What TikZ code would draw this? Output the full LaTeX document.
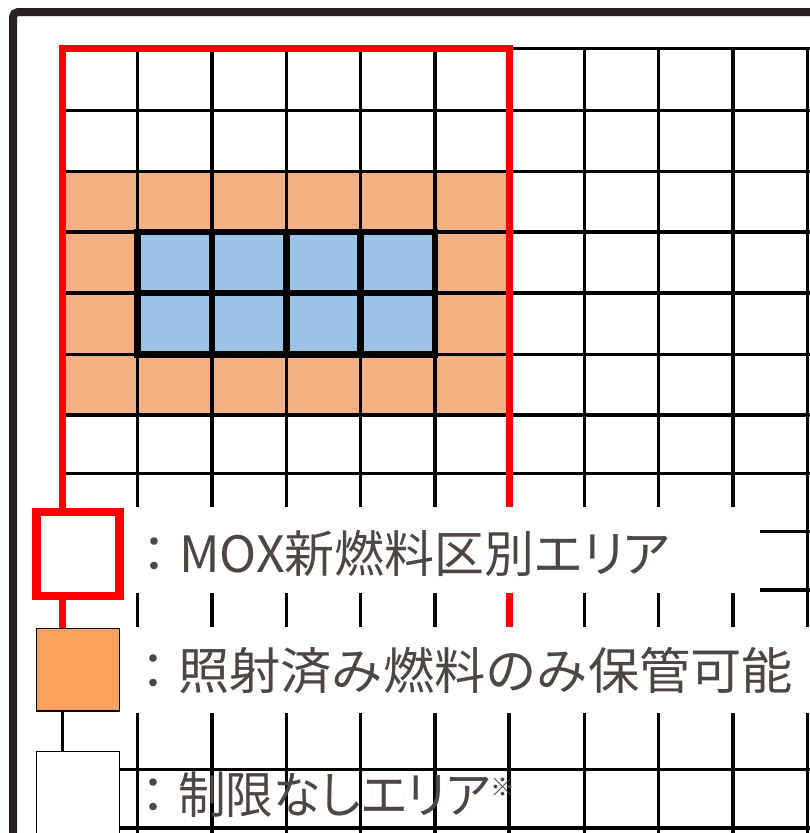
\documentclass[tikz,border=0pt]{standalone}
\usepackage{fontspec}
\newfontfamily\jp{Noto Sans CJK JP}
\newfontfamily\jpp[RawFeature=+palt]{Noto Sans CJK JP}
\definecolor{framecol}{HTML}{272322}
\definecolor{cellorange}{HTML}{F4B183}
\definecolor{cellblue}{HTML}{9DC3E6}
\definecolor{legorange}{HTML}{F9A05B}
\definecolor{txtcol}{HTML}{4D4643}
\definecolor{redline}{HTML}{FF0000}
\tikzset{
  gridline/.style={black, line width=3.6pt},
  thickline/.style={black, line width=6.7pt},
  legbox/.style={draw, minimum width=83pt, minimum height=84pt, inner sep=0pt, outer sep=0pt},
  legtext/.style={anchor=base west, inner sep=0pt, text=txtcol, font=\fontsize{50}{50}\selectfont},
}
\begin{document}
\begin{tikzpicture}[x=1pt,y=-1pt]
\useasboundingbox (0,0) rectangle (810,833);
\begin{scope}
\clip (0,0) rectangle (810,833);
% cell fills
\fill[cellorange] (62.5,171.5) rectangle (509,415);
\fill[cellblue] (137.5,232) rectangle (435,354.5);
% grid
\foreach \x in {62.5,137.5,212,286.5,360.5,435,509,584.5,658.5,733,807.5}
  \draw[gridline] (\x,48.5) -- (\x,845);
\foreach \y in {48.5,110.5,171.5,232,293,354.5,415,473.5,531.5,590,650,710,769.5,828}
  \draw[gridline] (62.5,\y) -- (820,\y);
% blue block border
\draw[thickline] (137.5,232) rectangle (435,354.5);
\foreach \x in {212,286.5,360.5}
  \draw[thickline] (\x,232) -- (\x,354.5);
\draw[thickline] (137.5,293) -- (435,293);
% red area
\draw[redline, line width=7pt] (62.5,48.5) rectangle (509,650);
% outer frame
\draw[framecol, line width=8pt, rounded corners=5pt] (13,850) -- (13,12) -- (830,12);
% legend masks
\fill[white] (124,507) rectangle (760,592.8);
\fill[white] (120,627) rectangle (820,713);
% legend boxes
\node[legbox, draw=redline, line width=8.5pt, fill=white] (k1) at (78,554) {};
\node[legbox, draw=black, line width=1.3pt, fill=legorange, minimum height=82.8pt] (k2) at (77.85,669.7) {};
\node[legbox, draw=black, line width=1.3pt, fill=white] (k3) at (77.85,793.6) {};
\end{scope}
% legend texts
\node[legtext] (t1) at (129,572) {{\jp ：}{\jpp MOX新燃料区別エリア}};
\node[legtext] (t2) at (128,689) {{\jp ：}\scalebox{1.025}[1]{\jp 照射済み燃料のみ保管可能}};
\node[legtext] (t3) at (128,813) {{\jp ：}\scalebox{0.955}[1]{\jpp 制限なしエリア}{\jp\fontsize{25}{25}\selectfont\raisebox{17pt}{※}}};
\end{tikzpicture}
\end{document}
